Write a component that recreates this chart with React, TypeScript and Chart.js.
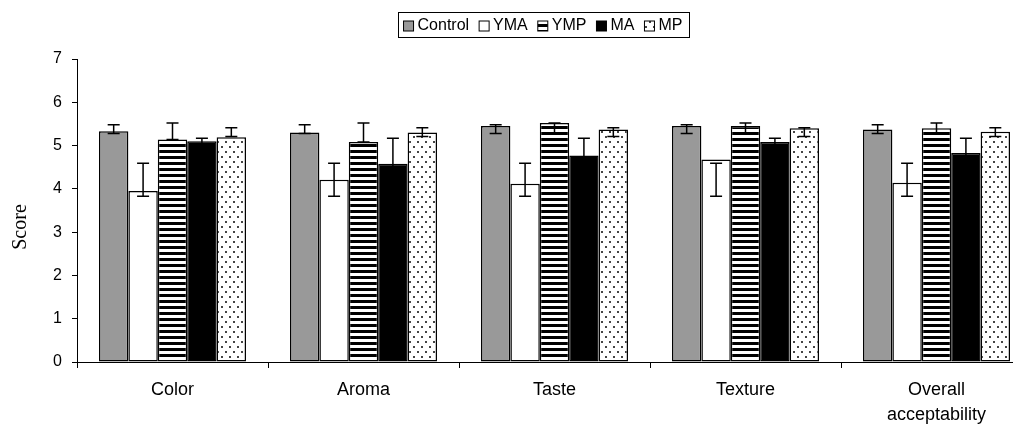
import React, { useEffect, useRef } from 'react';
import { Chart, registerables } from 'chart.js';

Chart.register(...registerables);

// ---------- data ----------
const categories: (string | string[])[] = ['Color', 'Aroma', 'Taste', 'Texture', ['Overall', 'acceptability']];
const seriesNames = ['Control', 'YMA', 'YMP', 'MA', 'MP'];

const controlValues = [5.33, 5.3, 5.45, 5.45, 5.37];
const ymaValues = [3.95, 4.21, 4.12, 4.68, 4.14];
const ympValues = [5.14, 5.08, 5.52, 5.45, 5.4];
const maValues = [5.1, 4.58, 4.77, 5.08, 4.83];
const mpValues = [5.19, 5.3, 5.37, 5.4, 5.32];

// error bar ends (upper / lower)
const controlHigh = [5.48, 5.48, 5.48, 5.48, 5.48];
const controlLow = [5.28, 5.28, 5.28, 5.28, 5.28];
const ymaHigh = [4.59, 4.59, 4.59, 4.59, 4.59];
const ymaLow = [3.83, 3.83, 3.83, 3.83, 3.83];
const ympHigh = [5.52, 5.52, 5.52, 5.52, 5.52];
const ympLow = [5.14, 5.08, 5.28, 5.28, 5.28];
const maHigh = [5.17, 5.17, 5.17, 5.17, 5.17];
const maLow = [5.03, 3.99, 4.37, 4.99, 4.49];
const mpHigh = [5.41, 5.41, 5.41, 5.41, 5.41];
const mpLow = [5.21, 5.21, 5.21, 5.21, 5.21];

const yTicks = [0, 1, 2, 3, 4, 5, 6, 7];
const yTitle = 'Score';

const allValues = [controlValues, ymaValues, ympValues, maValues, mpValues];
const allHigh = [controlHigh, ymaHigh, ympHigh, maHigh, mpHigh];
const allLow = [controlLow, ymaLow, ympLow, maLow, mpLow];

const SANS = '"Liberation Sans", Arial, sans-serif';
const SERIF = '"Liberation Serif", "Times New Roman", serif';

function stripePattern(ctx: CanvasRenderingContext2D): CanvasPattern {
  const c = document.createElement('canvas');
  c.width = 6;
  c.height = 6;
  const g = c.getContext('2d')!;
  g.fillStyle = '#ffffff';
  g.fillRect(0, 0, 6, 6);
  g.fillStyle = '#000000';
  g.fillRect(0, 0, 6, 3);
  return ctx.createPattern(c, 'repeat')!;
}

function dotPattern(ctx: CanvasRenderingContext2D): CanvasPattern {
  const c = document.createElement('canvas');
  c.width = 8;
  c.height = 10;
  const g = c.getContext('2d')!;
  g.fillStyle = '#ffffff';
  g.fillRect(0, 0, 8, 10);
  g.fillStyle = '#444444';
  g.fillRect(1, 1, 2, 2);
  g.fillRect(5, 6, 2, 2);
  return ctx.createPattern(c, 'repeat')!;
}

export default function App() {
  const ref = useRef<HTMLCanvasElement | null>(null);

  useEffect(() => {
    const canvas = ref.current!;
    const ctx0 = canvas.getContext('2d')!;
    const fills: (string | CanvasPattern)[] = [
      '#999999',
      '#ffffff',
      stripePattern(ctx0),
      '#000000',
      dotPattern(ctx0),
    ];

    const errorBars = {
      id: 'errorBars',
      afterDatasetsDraw(chart: any) {
        const ctx = chart.ctx as CanvasRenderingContext2D;
        const ys = chart.scales.y;
        ctx.save();
        ctx.strokeStyle = '#000';
        ctx.lineWidth = 1.5;
        chart.data.datasets.forEach((_ds: any, di: number) => {
          const meta = chart.getDatasetMeta(di);
          meta.data.forEach((bar: any, i: number) => {
            const x = bar.x;
            const yh = ys.getPixelForValue(allHigh[di][i]);
            const yl = ys.getPixelForValue(allLow[di][i]);
            ctx.beginPath();
            ctx.moveTo(x, yh);
            ctx.lineTo(x, yl);
            ctx.moveTo(x - 6, yh);
            ctx.lineTo(x + 6, yh);
            ctx.moveTo(x - 6, yl);
            ctx.lineTo(x + 6, yl);
            ctx.stroke();
          });
        });
        ctx.restore();
      },
    };

    const customDecor = {
      id: 'customDecor',
      afterDraw(chart: any) {
        const ctx = chart.ctx as CanvasRenderingContext2D;
        // y axis title
        ctx.save();
        ctx.font = `20px ${SERIF}`;
        ctx.fillStyle = '#000';
        ctx.textAlign = 'center';
        ctx.textBaseline = 'middle';
        ctx.translate(21, 227);
        ctx.rotate(-Math.PI / 2);
        ctx.fillText(yTitle, 0, 0);
        ctx.restore();

        // legend
        ctx.save();
        ctx.font = `16px ${SANS}`;
        const sq = 10;
        const gapSq = 4;
        const gapItem = 10;
        const padX = 6;
        const widths = seriesNames.map((n) => ctx.measureText(n).width);
        const total =
          padX * 2 + widths.reduce((a, b) => a + b, 0) + seriesNames.length * (sq + gapSq) + (seriesNames.length - 1) * gapItem;
        const cx = chart.width / 2;
        const top = 12;
        const h = 25;
        let x = cx - total / 2;
        ctx.strokeStyle = '#000';
        ctx.lineWidth = 1;
        ctx.strokeRect(Math.round(x) + 0.5, top + 0.5, Math.round(total), h);
        x += padX;
        const midY = top + h / 2 + 1.5;
        seriesNames.forEach((n, i) => {
          ctx.fillStyle = fills[i] as any;
          ctx.fillRect(x, midY - sq / 2, sq, sq);
          ctx.strokeStyle = '#000';
          ctx.lineWidth = 1;
          ctx.strokeRect(x, midY - sq / 2, sq, sq);
          x += sq + gapSq;
          ctx.fillStyle = '#000';
          ctx.textBaseline = 'middle';
          ctx.textAlign = 'left';
          ctx.fillText(n, x, midY);
          x += widths[i] + gapItem;
        });
        ctx.restore();
      },
    };

    const chart = new Chart(canvas, {
      type: 'bar',
      data: {
        labels: categories as any,
        datasets: seriesNames.map((name, i) => ({
          label: name,
          data: allValues[i],
          backgroundColor: fills[i] as any,
          borderColor: '#000',
          borderWidth: 1.5,
          borderSkipped: false as any,
          categoryPercentage: 0.77,
          barPercentage: 1.0,
        })),
      },
      options: {
        responsive: false,
        animation: false,
        layout: { padding: { top: 59, right: 54, bottom: 0, left: 0 } },
        plugins: {
          legend: { display: false },
          tooltip: { enabled: false },
          title: { display: false },
        },
        scales: {
          x: {
            offset: true,
            grid: {
              display: true,
              offset: true,
              drawOnChartArea: false,
              drawTicks: true,
              tickLength: 6,
              color: '#000',
              lineWidth: 1,
            },
            border: { display: true, color: '#000', width: 1 },
            ticks: {
              color: '#000',
              font: { family: SANS, size: 18, lineHeight: 1.4 },
              padding: 9,
              maxRotation: 0,
              autoSkip: false,
            },
            afterFit: (s: any) => {
              s.height = 68;
            },
          },
          y: {
            min: 0,
            max: 7,
            grid: {
              display: true,
              drawOnChartArea: false,
              drawTicks: true,
              tickLength: 5,
              color: '#000',
              lineWidth: 1,
            },
            border: { display: true, color: '#000', width: 1 },
            ticks: {
              color: '#000',
              font: { family: SANS, size: 16 },
              padding: 10,
            },
            afterBuildTicks: (s: any) => {
              s.ticks = yTicks.map((v) => ({ value: v }));
            },
            afterFit: (s: any) => {
              s.width = 77;
            },
          },
        },
      },
      plugins: [errorBars, customDecor],
    });

    return () => chart.destroy();
  }, []);

  return (
    <div
      style={{
        position: 'fixed',
        left: 0,
        top: 0,
        width: 1013,
        height: 430,
        overflow: 'hidden',
        background: '#fff',
      }}
    >
      <canvas ref={ref} width={1086} height={430} style={{ width: 1086, height: 430, display: 'block' }} />
    </div>
  );
}
